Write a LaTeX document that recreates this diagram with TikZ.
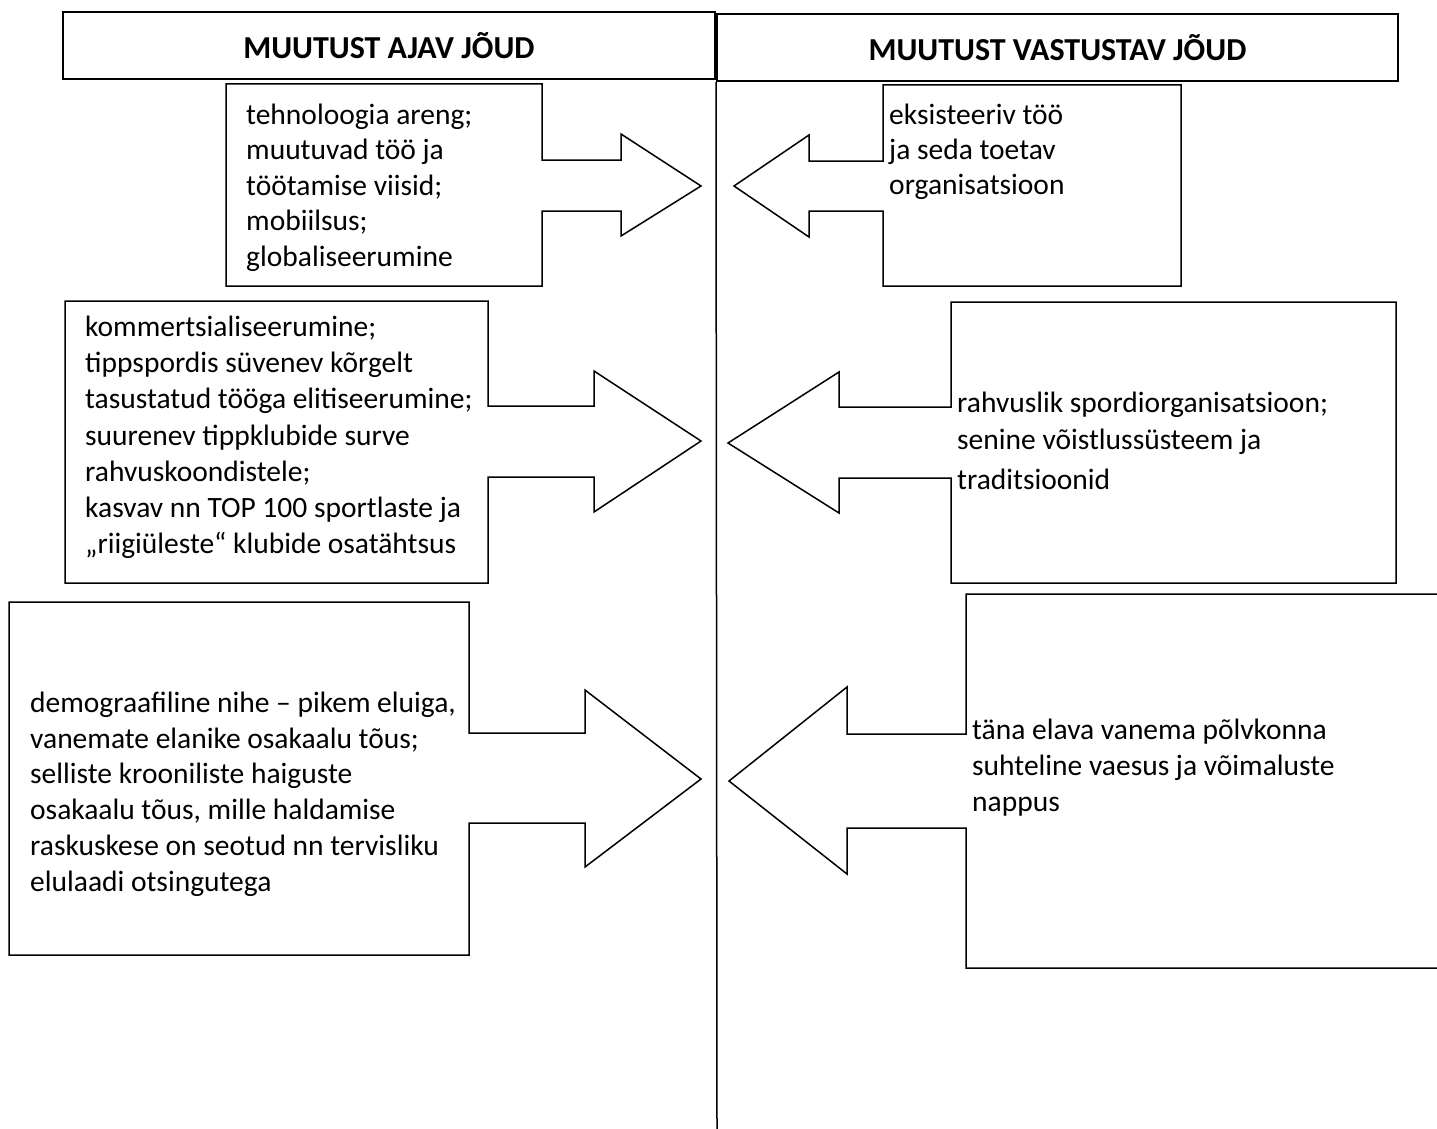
\documentclass[tikz,border=0pt]{standalone}
\usepackage{fontspec}
\setmainfont{Carlito}
\begin{document}
\begin{tikzpicture}[x=1pt,y=-1pt,
  outline/.style={draw=black,line width=1.5pt,line join=miter},
  hdr/.style={draw=black,line width=2pt,font=\fontsize{32}{36}\selectfont\bfseries,inner sep=0pt},
  txt/.style={anchor=north west,inner sep=0pt,align=left}]
\useasboundingbox (0,0) rectangle (1437,1129);
\clip (0,0) rectangle (1437,1129);

% headers
\node[hdr,minimum width=652pt,minimum height=67pt] (hL) at (389,45.5) {MUUTUST AJAV JÕUD};
\node[hdr,minimum width=681pt,minimum height=67pt] (hR) at (1057.5,47.5) {MUUTUST VASTUSTAV JÕUD};
\coordinate (vb) at (717,1129);
\draw[line width=1.5pt] (hR.south west) -- (vb);

% row 1
\draw[outline] (226,84) -- (542,84) -- (542,160) -- (621,160) -- (621,134) -- (701,186)
  -- (621,236) -- (621,211) -- (542,211) -- (542,286) -- (226,286) -- cycle;
\node[txt,font=\fontsize{29.5}{35.5}\selectfont] (t1) at (246,99)
  {\strut tehnoloogia areng;\\ muutuvad töö ja\\ töötamise viisid;\\ mobiilsus;\\ globaliseerumine};
\draw[outline] (883,85) -- (1181,85) -- (1181,286) -- (883,286) -- (883,211) -- (809,211)
  -- (809,237) -- (734,186) -- (809,135) -- (809,161) -- (883,161) -- cycle;
\node[txt,font=\fontsize{29.5}{35}\selectfont] (r1) at (889,99.5)
  {\strut eksisteeriv töö\\ ja seda toetav\\ organisatsioon};

% row 2
\draw[outline] (65,301) -- (488,301) -- (488,406) -- (594,406) -- (594,371) -- (701,441)
  -- (594,512) -- (594,477) -- (488,477) -- (488,583) -- (65,583) -- cycle;
\node[txt,font=\fontsize{29.5}{36.3}\selectfont] (t2) at (85,310.5)
  {\strut kommertsialiseerumine;\\ tippspordis süvenev kõrgelt\\ tasustatud tööga elitiseerumine;\\ suurenev tippklubide surve\\ rahvuskoondistele;\\ kasvav nn TOP 100 sportlaste ja\\ „riigiüleste“ klubide osatähtsus};
\draw[outline] (951,302) -- (1396,302) -- (1396,583) -- (951,583) -- (951,478) -- (839,478)
  -- (839,513) -- (728,443) -- (839,372) -- (839,407) -- (951,407) -- cycle;
\node[txt,font=\fontsize{29.5}{37}\selectfont] (r2) at (957,386)
  {\strut rahvuslik spordiorganisatsioon;\\ senine võistlussüsteem ja\\[3pt] traditsioonid};

% row 3
\draw[outline] (9,602) -- (469,602) -- (469,733) -- (585,733) -- (585,690) -- (701,779)
  -- (585,867) -- (585,823) -- (469,823) -- (469,955) -- (9,955) -- cycle;
\node[txt,font=\fontsize{29.5}{35.8}\selectfont] (t3) at (30,687)
  {\strut demograafiline nihe – pikem eluiga,\\ vanemate elanike osakaalu tõus;\\ selliste krooniliste haiguste\\ osakaalu tõus, mille haldamise\\ raskuskese on seotud nn tervisliku\\ elulaadi otsingutega};
\draw[outline] (966,594) -- (1450,594) -- (1450,968) -- (966,968) -- (966,828) -- (847,828)
  -- (847,874) -- (729,781) -- (847,687) -- (847,734) -- (966,734) -- cycle;
\node[txt,font=\fontsize{29.5}{36}\selectfont] (r3) at (972,714.5)
  {\strut täna elava vanema põlvkonna\\ suhteline vaesus ja võimaluste\\ nappus};
\end{tikzpicture}
\end{document}
